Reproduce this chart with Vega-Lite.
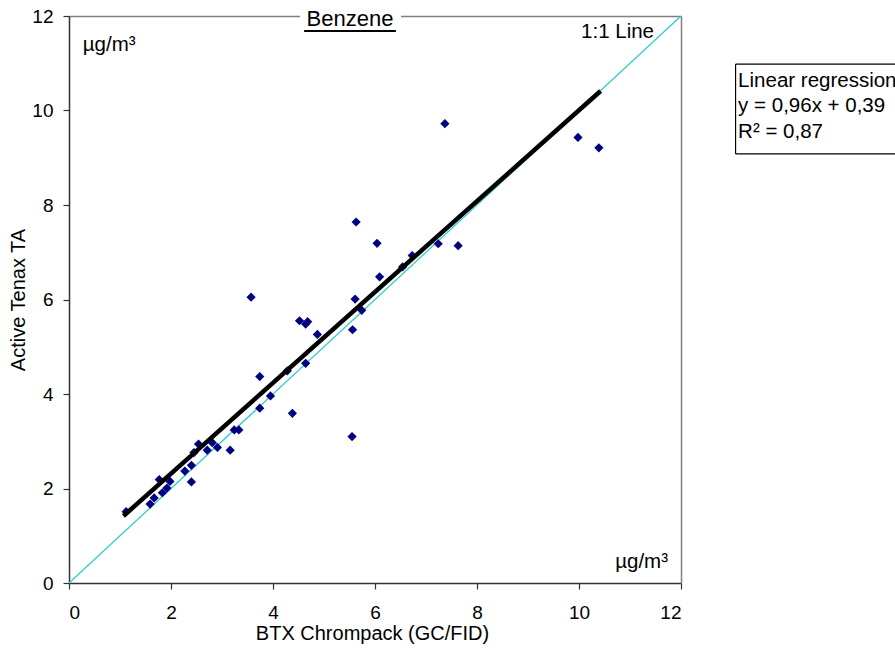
{
  "$schema": "https://vega.github.io/schema/vega-lite/v6.json",
  "width": 612,
  "height": 567,
  "autosize": {"type": "none"},
  "padding": {"left": 69, "top": 16, "right": 214, "bottom": 65},
  "background": "white",
  "config": {
    "font": "Liberation Sans",
    "view": {"stroke": null},
    "axis": {
      "labelFont": "Liberation Sans", "labelFontSize": 19, "labelColor": "black",
      "titleFont": "Liberation Sans", "titleFontSize": 20, "titleFontWeight": "normal", "titleColor": "black",
      "gridColor": "#d4d4d4", "gridWidth": 1.2,
      "domainColor": "#333333", "domainWidth": 1.5,
      "tickColor": "#333333", "tickWidth": 1.2, "tickSize": 6
    }
  },
  "datasets": {
    "pts": [
      {"chrompack": 1.12, "tenax": 1.51}, {"chrompack": 1.59, "tenax": 1.67}, {"chrompack": 1.67, "tenax": 1.80},
      {"chrompack": 1.77, "tenax": 2.19}, {"chrompack": 1.83, "tenax": 1.91}, {"chrompack": 1.92, "tenax": 2.01},
      {"chrompack": 1.98, "tenax": 2.15}, {"chrompack": 2.27, "tenax": 2.37}, {"chrompack": 2.40, "tenax": 2.49},
      {"chrompack": 2.40, "tenax": 2.14}, {"chrompack": 2.45, "tenax": 2.76}, {"chrompack": 2.54, "tenax": 2.94},
      {"chrompack": 2.71, "tenax": 2.81}, {"chrompack": 2.81, "tenax": 2.97}, {"chrompack": 2.91, "tenax": 2.87},
      {"chrompack": 3.16, "tenax": 2.81}, {"chrompack": 3.24, "tenax": 3.24}, {"chrompack": 3.33, "tenax": 3.24},
      {"chrompack": 3.57, "tenax": 6.05}, {"chrompack": 3.74, "tenax": 4.37}, {"chrompack": 3.74, "tenax": 3.70},
      {"chrompack": 3.95, "tenax": 3.96}, {"chrompack": 4.28, "tenax": 4.49}, {"chrompack": 4.38, "tenax": 3.59},
      {"chrompack": 4.52, "tenax": 5.55}, {"chrompack": 4.64, "tenax": 5.48}, {"chrompack": 4.68, "tenax": 5.53},
      {"chrompack": 4.64, "tenax": 4.65}, {"chrompack": 4.87, "tenax": 5.26}, {"chrompack": 5.55, "tenax": 3.10},
      {"chrompack": 5.56, "tenax": 5.36}, {"chrompack": 5.61, "tenax": 6.01}, {"chrompack": 5.74, "tenax": 5.77},
      {"chrompack": 5.63, "tenax": 7.64}, {"chrompack": 6.04, "tenax": 7.19}, {"chrompack": 6.09, "tenax": 6.48},
      {"chrompack": 6.54, "tenax": 6.69}, {"chrompack": 6.73, "tenax": 6.93}, {"chrompack": 7.24, "tenax": 7.18},
      {"chrompack": 7.63, "tenax": 7.14}, {"chrompack": 7.37, "tenax": 9.72}, {"chrompack": 9.98, "tenax": 9.43},
      {"chrompack": 10.39, "tenax": 9.21}
    ],
    "identity": [{"chrompack": 0, "tenax": 0}, {"chrompack": 12, "tenax": 12}],
    "regression": [{"chrompack": 1.1, "tenax": 1.45}, {"chrompack": 10.39, "tenax": 10.38}],
    "notes": [
      {"chrompack": 0.27, "tenax": 11.39, "label": "µg/m³"},
      {"chrompack": 10.04, "tenax": 11.66, "label": "1:1 Line"},
      {"chrompack": 10.71, "tenax": 0.44, "label": "µg/m³"},
      {"chrompack": 13.12, "tenax": 10.63, "label": "Linear regression"},
      {"chrompack": 13.12, "tenax": 10.10, "label": "y = 0,96x + 0,39"},
      {"chrompack": 13.12, "tenax": 9.55, "label": "R² = 0,87"}
    ],
    "titlebox": [{"x0": 4.53, "x1": 6.51, "y0": 11.56, "y1": 12.17}],
    "legendbox": [{"x0": 13.07, "x1": 25, "y0": 9.08, "y1": 10.98}],
    "legendedges": [
      {"x0": 13.07, "x1": 25, "y0": 10.98, "y1": 10.98},
      {"x0": 13.07, "x1": 25, "y0": 9.08, "y1": 9.08},
      {"x0": 13.07, "x1": 13.07, "y0": 9.08, "y1": 10.98}
    ],
    "title": [{"chrompack": 5.51, "tenax": 11.93, "label": "Benzene", "x0": 4.61, "x1": 6.41, "uy": 11.68}]
  },
  "layer": [
    {
      "data": {"name": "identity"},
      "mark": {"type": "line", "color": "#33cccc", "strokeWidth": 1.3},
      "encoding": {
        "x": {"field": "chrompack", "type": "quantitative", "scale": {"domain": [0, 12], "nice": false},
              "axis": {"orient": "top", "labels": false, "ticks": false, "grid": false, "title": null, "domainColor": "#808080", "domainWidth": 1.5}},
        "y": {"field": "tenax", "type": "quantitative", "scale": {"domain": [0, 12], "nice": false},
              "axis": {"orient": "right", "labels": false, "ticks": false, "grid": false, "title": null, "domainColor": "#808080", "domainWidth": 1.5}}
      }
    },
    {
      "data": {"name": "pts"},
      "mark": {"type": "point", "shape": "diamond", "filled": true, "color": "#000080", "size": 85, "opacity": 1},
      "encoding": {
        "x": {"field": "chrompack", "type": "quantitative", "scale": {"domain": [0, 12], "nice": false},
              "axis": {"orient": "bottom", "values": [0, 2, 4, 6, 8, 10, 12], "labelPadding": 14, "title": "BTX Chrompack (GC/FID)", "titleX": 303, "titleY": 50, "titleBaseline": "middle"}},
        "y": {"field": "tenax", "type": "quantitative", "scale": {"domain": [0, 12], "nice": false},
              "axis": {"orient": "left", "values": [0, 2, 4, 6, 8, 10, 12], "labelPadding": 10, "title": "Active Tenax TA", "titleX": -51, "titleY": 283.5, "titleAngle": -90, "titleBaseline": "middle", "titleAlign": "center"}}
      }
    },
    {
      "data": {"name": "regression"},
      "mark": {"type": "line", "color": "black", "strokeWidth": 4.5, "strokeCap": "square"},
      "encoding": {
        "x": {"field": "chrompack", "type": "quantitative", "scale": {"domain": [0, 12], "nice": false}, "axis": null},
        "y": {"field": "tenax", "type": "quantitative", "scale": {"domain": [0, 12], "nice": false}, "axis": null}
      }
    },
    {
      "data": {"name": "titlebox"},
      "mark": {"type": "rect", "fill": "white", "stroke": null},
      "encoding": {
        "x": {"field": "x0", "type": "quantitative", "scale": {"domain": [0, 12], "nice": false}, "axis": null},
        "x2": {"field": "x1"},
        "y": {"field": "y0", "type": "quantitative", "scale": {"domain": [0, 12], "nice": false}, "axis": null},
        "y2": {"field": "y1"}
      }
    },
    {
      "data": {"name": "legendbox"},
      "mark": {"type": "rect", "fill": "white", "stroke": null},
      "encoding": {
        "x": {"field": "x0", "type": "quantitative", "scale": {"domain": [0, 12], "nice": false}, "axis": null},
        "x2": {"field": "x1"},
        "y": {"field": "y0", "type": "quantitative", "scale": {"domain": [0, 12], "nice": false}, "axis": null},
        "y2": {"field": "y1"}
      }
    },
    {
      "data": {"name": "legendedges"},
      "mark": {"type": "rule", "color": "black", "strokeWidth": 1.2},
      "encoding": {
        "x": {"field": "x0", "type": "quantitative", "scale": {"domain": [0, 12], "nice": false}, "axis": null},
        "x2": {"field": "x1"},
        "y": {"field": "y0", "type": "quantitative", "scale": {"domain": [0, 12], "nice": false}, "axis": null},
        "y2": {"field": "y1"}
      }
    },
    {
      "data": {"name": "title"},
      "mark": {"type": "text", "fontSize": 22, "align": "center", "baseline": "middle", "color": "black", "font": "Liberation Sans"},
      "encoding": {
        "x": {"field": "chrompack", "type": "quantitative", "scale": {"domain": [0, 12], "nice": false}, "axis": null},
        "y": {"field": "tenax", "type": "quantitative", "scale": {"domain": [0, 12], "nice": false}, "axis": null},
        "text": {"field": "label"}
      }
    },
    {
      "data": {"name": "title"},
      "mark": {"type": "rule", "color": "black", "strokeWidth": 2},
      "encoding": {
        "x": {"field": "x0", "type": "quantitative", "scale": {"domain": [0, 12], "nice": false}, "axis": null},
        "x2": {"field": "x1"},
        "y": {"field": "uy", "type": "quantitative", "scale": {"domain": [0, 12], "nice": false}, "axis": null}
      }
    },
    {
      "data": {"name": "notes"},
      "mark": {"type": "text", "fontSize": 20.5, "align": "left", "baseline": "middle", "color": "black", "font": "Liberation Sans"},
      "encoding": {
        "x": {"field": "chrompack", "type": "quantitative", "scale": {"domain": [0, 12], "nice": false}, "axis": null},
        "y": {"field": "tenax", "type": "quantitative", "scale": {"domain": [0, 12], "nice": false}, "axis": null},
        "text": {"field": "label"}
      }
    }
  ],
  "resolve": {"axis": {"x": "independent", "y": "independent"}}
}
